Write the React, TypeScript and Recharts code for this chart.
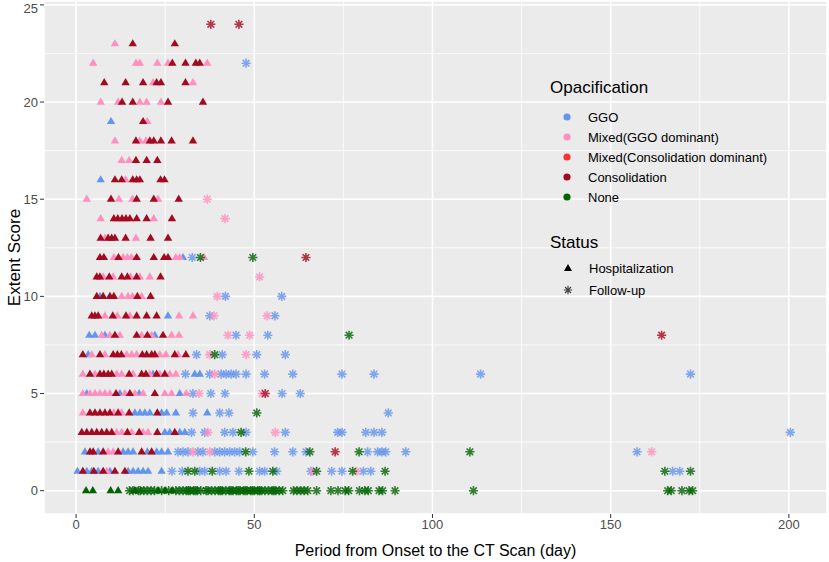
import * as React from "react"
import {
  ScatterChart,
  Scatter,
  XAxis,
  YAxis,
  CartesianGrid,
} from "recharts"

type Pt = [number, number] // [day, extent score]

const xTicks = [0, 50, 100, 150, 200]
const yTicks = [0, 5, 10, 15, 20, 25]
const xMinor = [25, 75, 125, 175]
const yMinor = [2.5, 7.5, 12.5, 17.5, 22.5]

const opacCategories = [
  "GGO",
  "Mixed(GGO dominant)",
  "Mixed(Consolidation dominant)",
  "Consolidation",
  "None",
]
const statusLabels = ["Hospitalization", "Follow-up"]

const ggoHospital: Pt[] = [
  [9.8, 19], [6.9, 16], [30, 12], [6.7, 10], [25.8, 9],
  [3.7, 8], [5.3, 8], [8.1, 8], [22.1, 8],
  [3.4, 7],
  [21.6, 6], [33.3, 6], [34.7, 6],
  [3, 5], [12.3, 5], [17.7, 5], [29.1, 5],
  [16.5, 4], [17.9, 4], [19.3, 4], [20.7, 4], [24, 4], [25.4, 4], [28, 4], [36.8, 4],
  [24.9, 3], [26.3, 3], [29.1, 3], [30.5, 3],
  [2.5, 2], [6.2, 2], [13.2, 2], [14.6, 2], [16, 2], [20, 2], [22.6, 2], [24, 2], [25.8, 2],
  [0.4, 1], [3, 1], [4.4, 1], [6.2, 1], [9.5, 1], [14.6, 1], [16, 1], [17.4, 1], [18.8, 1], [20.2, 1], [24, 1],
]

const ggoFollowUp: Pt[] = [
  [47.7, 22], [32.6, 12],
  [41.9, 10], [57.7, 10],
  [37.5, 9], [55.8, 9],
  [44.9, 8], [53.8, 8],
  [33.8, 7], [41, 7], [50.7, 7], [58.7, 7],
  [30.7, 6], [37.5, 6], [40.7, 6], [42.1, 6], [43.5, 6], [44.9, 6], [47.7, 6], [52.9, 6], [60.8, 6], [74.6, 6], [83.6, 6], [113.5, 6], [172.4, 6],
  [32.8, 5], [37.8, 5], [41.8, 5], [57.8, 5], [62.9, 5],
  [32.8, 4], [40.3, 4], [42.9, 4], [87.6, 4],
  [32.4, 3], [36.1, 3], [41.7, 3], [44, 3], [47.7, 3], [58.7, 3], [73.4, 3], [74.6, 3], [81.3, 3], [83.6, 3], [85.8, 3], [200.4, 3],
  [28.6, 2], [30, 2], [31.4, 2], [34.2, 2], [35.6, 2], [38.9, 2], [40.3, 2], [41.7, 2], [43.1, 2], [44.5, 2], [45.9, 2], [49.6, 2], [55.7, 2], [60.8, 2], [64.5, 2], [81.8, 2], [84.6, 2], [85.8, 2], [86.9, 2], [92.5, 2], [157.4, 2],
  [26.9, 1], [29.8, 1], [34.7, 1], [36.1, 1], [40.3, 1], [42.1, 1], [45.7, 1], [51.5, 1], [52.9, 1], [56.3, 1], [65.9, 1], [71.7, 1], [74.6, 1], [80.6, 1], [82.7, 1], [167.4, 1], [169.4, 1],
]

const mixedGgoHospital: Pt[] = [
  [10.9, 23],
  [4.8, 22], [16.8, 22], [17.9, 22], [22.8, 22], [25.8, 22], [36.8, 22],
  [21.6, 21], [32.8, 21],
  [6.9, 20], [11.8, 20], [17.9, 20], [19.8, 20], [23.8, 20],
  [20, 19],
  [10.9, 18], [17.9, 18], [19.6, 18],
  [12.8, 17], [14.9, 17],
  [13.9, 16],
  [3, 15], [12, 15], [15.8, 15], [23, 15],
  [6.9, 14], [21.8, 14],
  [8.1, 13], [16.8, 13],
  [10.6, 12], [13.2, 12], [14.4, 12], [15.5, 12], [28, 12], [29.1, 12], [35.9, 12],
  [7.6, 11], [10.4, 11], [15.3, 11], [17.9, 11], [20.7, 11],
  [12.8, 10], [14.6, 10], [15.8, 10], [18.4, 10],
  [8.1, 9], [11.6, 9], [15.1, 9], [28.9, 9], [32.8, 9],
  [7.2, 8], [9.5, 8], [12.3, 8], [18.4, 8], [21.2, 8], [26.8, 8], [28.9, 8],
  [4.4, 7], [8.1, 7], [14.2, 7], [15.6, 7], [17, 7], [23.5, 7], [25.2, 7], [28.6, 7],
  [1.9, 6], [5.3, 6], [11.4, 6], [12.8, 6], [16, 6], [20.7, 6], [23.5, 6], [26.3, 6], [28, 6],
  [1.9, 5], [3.9, 5], [5.3, 5], [6.7, 5], [8.1, 5], [9.5, 5], [13.7, 5], [16.5, 5], [18.8, 5], [24.9, 5], [26.8, 5], [30.9, 5],
  [1.9, 4], [10.6, 4], [12.8, 4],
  [11.4, 3], [12.8, 3], [15.6, 3], [18.8, 3], [20.2, 3],
  [9, 2], [10.4, 2],
  [8.6, 1],
]

const mixedGgoFollowUp: Pt[] = [
  [36.8, 15], [41.8, 14], [51.5, 11], [39.6, 10],
  [38.7, 9], [53.6, 9],
  [42.6, 8], [48.7, 8],
  [37.5, 7], [47.7, 7],
  [38.9, 6],
  [34.5, 5], [52.2, 5],
  [37, 3], [55.9, 3],
  [32.8, 2], [37.5, 2], [161.5, 2],
  [66.4, 1], [78.7, 1],
]

const mixedConsHospital: Pt[] = []
const mixedConsFollowUp: Pt[] = []

const consolidationHospital: Pt[] = [
  [15.9, 23], [27.7, 23],
  [27, 22], [30.7, 22], [33.6, 22], [34.7, 22],
  [7.9, 21], [13.9, 21], [18.8, 21], [22.6, 21], [23.8, 21], [30.7, 21],
  [12.9, 20], [15.9, 20], [25.8, 20], [35.6, 20],
  [18.8, 19],
  [16.8, 18], [20.7, 18], [21.8, 18], [23.8, 18], [26.8, 18], [32.8, 18],
  [16.8, 17], [19.8, 17], [22.8, 17],
  [10.9, 16], [12.8, 16], [15.9, 16], [17, 16], [17.9, 16], [23.7, 16], [24.8, 16],
  [9.8, 15], [17, 15], [21.8, 15], [28.8, 15],
  [10.6, 14], [11.7, 14], [12.9, 14], [14, 14], [15.1, 14], [17, 14], [19.8, 14], [26.9, 14],
  [6.9, 13], [9, 13], [10, 13], [10.9, 13], [13.9, 13], [20.9, 13], [25.8, 13],
  [6.7, 12], [7.8, 12], [11.9, 12], [17, 12], [21.8, 12], [24.7, 12], [25.8, 12],
  [5.8, 11], [6.7, 11], [9.3, 11], [12.8, 11], [14.4, 11], [17, 11], [23.7, 11],
  [5.8, 10], [7.6, 10], [9.5, 10], [10.6, 10], [17.2, 10], [20.9, 10],
  [4.4, 9], [5.3, 9], [6.2, 9], [10.3, 9], [14, 9], [17, 9], [19.8, 9], [22.6, 9],
  [10.9, 8], [17, 8], [20, 8], [24.4, 8],
  [1.9, 7], [6.7, 7], [10.4, 7], [11.6, 7], [12.7, 7], [18.6, 7], [19.8, 7], [21.2, 7], [22.1, 7], [27.7, 7], [30.8, 7],
  [3.9, 6], [6.7, 6], [7.8, 6], [9, 6], [10, 6], [14.9, 6], [18.4, 6], [19.6, 6], [22.6, 6], [24.9, 6],
  [11.2, 5], [15.1, 5], [22.1, 5],
  [3.9, 4], [5.3, 4], [6.7, 4], [8.1, 4], [9.5, 4], [11.8, 4], [14.9, 4], [22.8, 4],
  [1.6, 3], [3, 3], [4.4, 3], [5.8, 3], [7.2, 3], [8.6, 3], [10, 3], [14.4, 3], [17.7, 3], [22.8, 3], [27.7, 3],
  [3.9, 2], [4.8, 2], [7.6, 2], [11.8, 2], [18.4, 2], [21.2, 2],
  [1.9, 1], [5, 1], [7.6, 1], [10.9, 1], [13.7, 1],
]

const consolidationFollowUp: Pt[] = [
  [37.8, 24], [45.7, 24], [64.5, 12], [164.3, 8], [53.1, 5], [72.7, 2],
]

const noneHospital: Pt[] = [
  [2.8, 0], [4.7, 0], [9.7, 0], [11.8, 0], [16.5, 0], [23, 0], [25, 0], [27, 0],
]

const noneFollowUp: Pt[] = [
  [34.9, 12], [49.6, 12], [76.6, 8], [38.9, 7], [50.7, 4], [46.3, 3],
  [47.6, 2], [65.6, 2], [79.4, 2], [110.5, 2],
  [31.4, 1], [33.3, 1], [38.2, 1], [48.5, 1], [55.2, 1], [67.5, 1], [77.6, 1], [86.7, 1], [165.2, 1], [172.4, 1],
  [15, 0], [16, 0], [17.5, 0], [18, 0], [19, 0], [20, 0], [21, 0], [22, 0], [24, 0], [26, 0], [28, 0],
  [29, 0], [30, 0], [31, 0], [31.5, 0], [32, 0], [33, 0], [33.5, 0], [34, 0], [35, 0], [36.5, 0],
  [37, 0], [38, 0], [39, 0], [40, 0], [40.5, 0], [41, 0], [42, 0], [43, 0], [43.5, 0], [44, 0],
  [45, 0], [45.5, 0], [46, 0], [47, 0], [47.5, 0], [48, 0], [49, 0], [49.5, 0], [50, 0], [51, 0],
  [51.5, 0], [52, 0], [53, 0], [54, 0], [55, 0], [55.5, 0], [56, 0], [57, 0], [58, 0],
  [61, 0], [62, 0], [63, 0], [64, 0], [65, 0], [67.5, 0], [71.5, 0], [73.5, 0], [75.5, 0], [76.5, 0],
  [79.5, 0], [81, 0], [82, 0], [85, 0], [86, 0], [89.5, 0], [111.5, 0],
  [166, 0], [167, 0], [170, 0], [172, 0], [173, 0],
]

const colors = ["#6495ED", "#FF8FBF", "#FF3030", "#A30A20", "#006400"]

const FONT = "'Liberation Sans', Arial, Helvetica, sans-serif"

const toRows = (pts: Pt[]) => pts.map(([x, y]) => ({ x, y }))

function triangle(color: string) {
  return (props: any) => {
    const { cx, cy } = props
    if (cx == null || cy == null) return <g />
    return (
      <path
        d={`M${cx},${cy - 4.6}L${cx + 4.2},${cy + 2.6}L${cx - 4.2},${cy + 2.6}Z`}
        fill={color}
      />
    )
  }
}

function asterisk(color: string, opacity = 0.8) {
  return (props: any) => {
    const { cx, cy } = props
    if (cx == null || cy == null) return <g />
    const a = 4.6
    const b = 3.3
    return (
      <path
        d={`M${cx - a},${cy}H${cx + a}M${cx},${cy - a}V${cy + a}M${cx - b},${cy - b}L${cx + b},${cy + b}M${cx - b},${cy + b}L${cx + b},${cy - b}`}
        stroke={color}
        strokeWidth={1.6}
        strokeOpacity={opacity}
        fill="none"
      />
    )
  }
}

const hospitalSets = [ggoHospital, mixedGgoHospital, mixedConsHospital, consolidationHospital, noneHospital]
const followSets = [ggoFollowUp, mixedGgoFollowUp, mixedConsFollowUp, consolidationFollowUp, noneFollowUp]

function LegendOverlay() {
  return (
    <svg
      width={829}
      height={562}
      style={{ position: "absolute", left: 0, top: 0, pointerEvents: "none", fontFamily: FONT }}
    >
      <text x={550} y={87} fontSize={17} dominantBaseline="central" fill="#000">
        Opacification
      </text>
      {opacCategories.map((c, i) => (
        <g key={c}>
          <circle cx={567} cy={117 + i * 20} r={3.6} fill={colors[i]} />
          <text x={588} y={117 + i * 20} fontSize={13} dominantBaseline="central" fill="#000">
            {c}
          </text>
        </g>
      ))}
      <text x={550} y={242} fontSize={17} dominantBaseline="central" fill="#000">
        Status
      </text>
      <path d="M568,264L572,271L564,271Z" fill="#000" />
      <text x={589} y={268.5} fontSize={13} dominantBaseline="central" fill="#000">
        {statusLabels[0]}
      </text>
      <path
        d="M563.8,290H572.2M568,285.8V294.2M565,287L571,293M565,293L571,287"
        stroke="#000"
        strokeWidth={1.2}
        strokeOpacity={0.7}
      />
      <text x={589} y={290} fontSize={13} dominantBaseline="central" fill="#000">
        {statusLabels[1]}
      </text>
    </svg>
  )
}

export default function App() {
  return (
    <div style={{ position: "absolute", left: 0, top: 0, width: 829, height: 562, background: "#fff" }}>
      <ScatterChart
        width={829}
        height={562}
        margin={{ top: 1, right: 2, bottom: 0, left: 0 }}
        style={{ fontFamily: FONT }}
      >
        <CartesianGrid
          fill="#EBEBEB"
          fillOpacity={1}
          stroke="#FFFFFF"
          strokeWidth={0.8}
          horizontalValues={yMinor}
          verticalValues={xMinor}
        />
        <CartesianGrid stroke="#FFFFFF" strokeWidth={1.6} />
        <XAxis
          type="number"
          dataKey="x"
          domain={[-9, 210.7]}
          ticks={xTicks}
          allowDataOverflow
          height={48}
          tickSize={4}
          tickMargin={2}
          axisLine={false}
          tickLine={{ stroke: "#333333" }}
          tick={{ fill: "#4D4D4D", fontSize: 13 }}
          label={{
            value: "Period from Onset to the CT Scan (day)",
            position: "insideBottom",
            offset: 6,
            style: { fill: "#000", fontSize: 16 },
          }}
        />
        <YAxis
          type="number"
          dataKey="y"
          domain={[-1.2, 25.2]}
          ticks={yTicks}
          allowDataOverflow
          width={44}
          tickSize={4}
          tickMargin={2}
          axisLine={false}
          tickLine={{ stroke: "#333333" }}
          tick={{ fill: "#4D4D4D", fontSize: 13 }}
          label={{
            value: "Extent Score",
            angle: -90,
            position: "insideLeft",
            offset: 14,
            style: { fill: "#000", fontSize: 17, textAnchor: "middle" },
          }}
        />
        {hospitalSets.map((pts, i) => (
          <Scatter
            key={"h" + i}
            name={opacCategories[i] + " / " + statusLabels[0]}
            data={toRows(pts)}
            fill={colors[i]}
            shape={triangle(colors[i])}
            isAnimationActive={false}
          />
        ))}
        {followSets.map((pts, i) => (
          <Scatter
            key={"f" + i}
            name={opacCategories[i] + " / " + statusLabels[1]}
            data={toRows(pts)}
            fill={colors[i]}
            shape={asterisk(colors[i])}
            isAnimationActive={false}
          />
        ))}
      </ScatterChart>
      <LegendOverlay />
    </div>
  )
}
